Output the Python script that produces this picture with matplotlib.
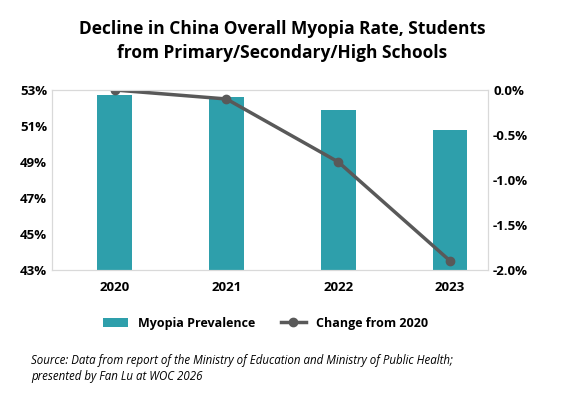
import matplotlib
matplotlib.use("Agg")
import matplotlib.pyplot as plt
from matplotlib.ticker import FuncFormatter

years = ["2020", "2021", "2022", "2023"]
prevalence = [52.7, 52.6, 51.9, 50.8]
change = [0.0, -0.1, -0.8, -1.9]

plt.rcParams['font.family'] = ['Open Sans', 'DejaVu Sans']
fig = plt.figure(figsize=(5.65, 4.09), dpi=100)
ax = fig.add_axes([0.092, 0.34, 0.772, 0.44])
x = range(len(years))
b = ax.bar(x, prevalence, width=0.31, color="#2E9FAB", label="Myopia Prevalence")
ax.set_ylim(43, 53)
ax.set_yticks([43, 45, 47, 49, 51, 53])
ax.yaxis.set_major_formatter(FuncFormatter(lambda v, p: f"{v:.0f}%"))
ax.set_xticks(list(x))
ax.set_xticklabels(years, fontweight="bold", fontsize=9.5)
ax.set_xlim(-0.56, 3.34)
for s in ax.spines.values():
    s.set_color("#d9d9d9")
ax.tick_params(length=0, labelsize=9.5)
for t in ax.get_yticklabels():
    t.set_fontweight("bold")
ax2 = ax.twinx()
l, = ax2.plot(x, change, color="#595959", lw=2.5, marker="o", ms=6, label="Change from 2020")
ax2.set_ylim(-2.0, 0.0)
ax2.set_yticks([0, -0.5, -1.0, -1.5, -2.0])
ax2.yaxis.set_major_formatter(FuncFormatter(lambda v, p: f"{v:.1f}%"))
ax2.tick_params(length=0, labelsize=9.5)
for t in ax2.get_yticklabels():
    t.set_fontweight("bold")
for s in ax2.spines.values():
    s.set_color("#d9d9d9")
ax.tick_params(axis='x', pad=8)
fig.text(0.5, 0.95, "Decline in China Overall Myopia Rate, Students\nfrom Primary/Secondary/High Schools",
         ha="center", va="top", fontsize=12.5, fontweight="bold", linespacing=1.4)
fig.legend([b, l], ["Myopia Prevalence", "Change from 2020"], loc="center",
           bbox_to_anchor=(0.47, 0.21), ncol=2, frameon=False,
           prop={"weight": "bold", "size": 9}, columnspacing=2)
fig.text(0.055, 0.135, "Source: Data from report of the Ministry of Education and Ministry of Public Health;\npresented by Fan Lu at WOC 2026",
         ha="left", va="top", fontsize=8.3, style="italic", linespacing=1.3)
fig.savefig("out.png", dpi=100)
